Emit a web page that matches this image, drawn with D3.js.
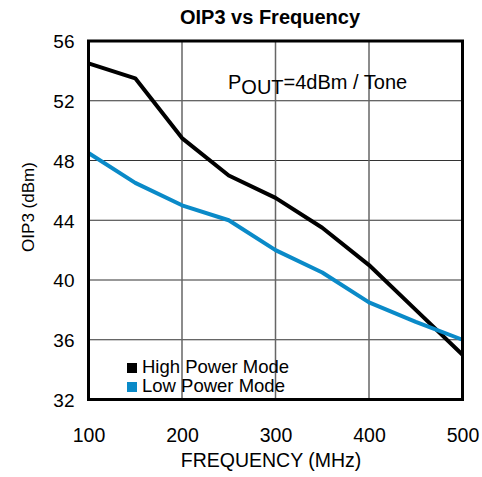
<!DOCTYPE html>
<html><head><meta charset="utf-8">
<script src="https://cdn.jsdelivr.net/npm/d3@7"></script>
<style>body{margin:0;background:#fff}svg{display:block}text{font-family:"Liberation Sans",Arial,sans-serif;fill:#000}</style>
</head><body>
<script>
const freq = [100,150,200,250,300,350,400,450,500];
const highPower = [54.5,53.5,49.5,47.0,45.5,43.5,41.0,38.0,35.0];
const lowPower  = [48.5,46.5,45.0,44.0,42.0,40.5,38.5,37.2,36.0];
const xTicks = [100,200,300,400,500];
const yTicks = [32,36,40,44,48,52,56];
const seriesNames = ["High Power Mode","Low Power Mode"];
const seriesColors = ["#000000","#0a8ac8"];

const W=482,H=477;
const m={l:88.5,r:19.5,t:41,b:77.5};
const svg=d3.select("body").append("svg").attr("width",W).attr("height",H);
const x=d3.scaleLinear().domain([100,500]).range([m.l,W-m.r]);
const y=d3.scaleLinear().domain([32,56]).range([H-m.b,m.t]);

// grid
svg.append("g").selectAll("line").data(yTicks.slice(1,-1)).join("line")
  .attr("x1",x(100)).attr("x2",x(500)).attr("y1",d=>y(d)).attr("y2",d=>y(d))
  .attr("stroke","#333").attr("stroke-width",1.2);
svg.append("g").selectAll("line").data(xTicks.slice(1,-1)).join("line")
  .attr("y1",y(32)).attr("y2",y(56)).attr("x1",d=>x(d)).attr("x2",d=>x(d))
  .attr("stroke","#666").attr("stroke-width",1.5);

// series
const line=d3.line().x((d,i)=>x(freq[i])).y(d=>y(d));
[highPower,lowPower].forEach((s,k)=>{
  svg.append("path").datum(s).attr("d",line).attr("fill","none")
    .attr("stroke",seriesColors[k]).attr("stroke-width",4).attr("stroke-linejoin","round");
});

// frame
svg.append("rect").attr("x",x(100)).attr("y",y(56)).attr("width",x(500)-x(100)).attr("height",y(32)-y(56))
  .attr("fill","none").attr("stroke","#000").attr("stroke-width",3);

// axes labels
const xa=d3.axisBottom(x).tickValues(xTicks).tickSize(0).tickPadding(0);
const gx=svg.append("g").attr("transform",`translate(0,${H-m.b})`).call(xa);
gx.select(".domain").remove();
gx.selectAll("text").attr("dy",null).attr("y",42).style("font-size","19.5px").style("font-family","Liberation Sans, Arial, sans-serif");
const ya=d3.axisLeft(y).tickValues(yTicks).tickSize(0).tickPadding(14);
const gy=svg.append("g").attr("transform",`translate(${m.l},0)`).call(ya);
gy.select(".domain").remove();
gy.selectAll("text").attr("dy","0.36em").style("font-size","19px").style("font-family","Liberation Sans, Arial, sans-serif");

svg.append("text").attr("x",270).attr("y",24).attr("text-anchor","middle")
  .style("font-size","20px").style("font-weight","bold").text("OIP3 vs Frequency");
svg.append("text").attr("x",271).attr("y",467).attr("text-anchor","middle")
  .style("font-size","19.5px").text("FREQUENCY (MHz)");
svg.append("text").attr("transform","translate(34,207) rotate(-90)").attr("text-anchor","middle")
  .style("font-size","17px").text("OIP3 (dBm)");

// annotation
const ann=svg.append("text").attr("x",228).attr("y",89).style("font-size","20px");
ann.append("tspan").text("P");
ann.append("tspan").attr("dy",5).text("OUT");
ann.append("tspan").attr("dy",-5).text("=4dBm / Tone");

// legend
const lg=svg.append("g").selectAll("g").data(seriesNames).join("g")
  .attr("transform",(d,i)=>`translate(127,${363+i*19})`);
lg.append("rect").attr("width",10).attr("height",10).attr("fill",(d,i)=>seriesColors[i]);
lg.append("text").attr("x",15).attr("y",9.5).style("font-size","18.5px").text(d=>d);
</script>
</body></html>
